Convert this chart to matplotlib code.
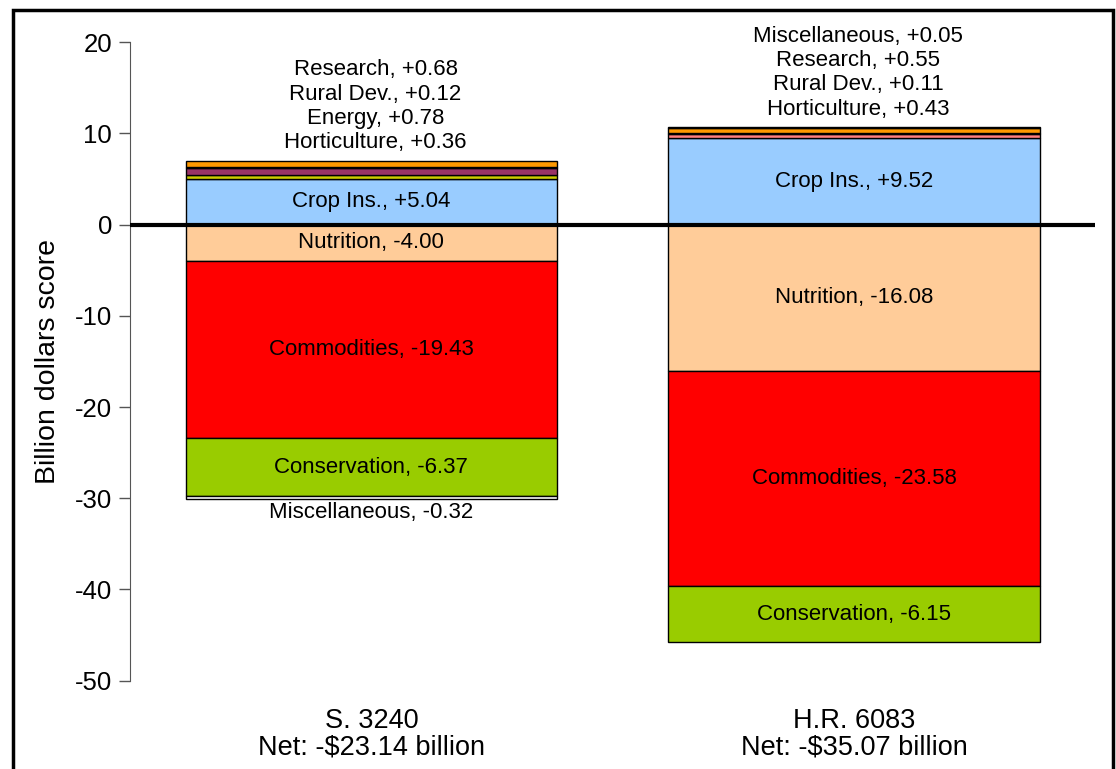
import matplotlib.pyplot as plt
from matplotlib.patches import Rectangle

plt.rcParams["font.family"] = ["Liberation Sans", "DejaVu Sans"]
plt.rcParams["axes.unicode_minus"] = False

bills = ["S. 3240\nNet: -$23.14 billion", "H.R. 6083\nNet: -$35.07 billion"]

# (label, value, colour), stacked from zero outward
s3240_pos = [("Crop Ins.", 5.04, "#99CCFF"), ("Horticulture", 0.36, "#CCCC00"),
             ("Energy", 0.78, "#993366"), ("Rural Dev.", 0.12, "#333333"),
             ("Research", 0.68, "#FF9900")]
s3240_neg = [("Nutrition", -4.00, "#FFCC99"), ("Commodities", -19.43, "#FF0000"),
             ("Conservation", -6.37, "#99CC00"), ("Miscellaneous", -0.32, "#FFFFFF")]
hr6083_pos = [("Crop Ins.", 9.52, "#99CCFF"), ("Horticulture", 0.43, "#FF8080"),
              ("Rural Dev.", 0.11, "#333333"), ("Research", 0.55, "#FF9900"),
              ("Miscellaneous", 0.05, "#333333")]
hr6083_neg = [("Nutrition", -16.08, "#FFCC99"), ("Commodities", -23.58, "#FF0000"),
              ("Conservation", -6.15, "#99CC00")]

# segments big enough to label inside the bar
inside = {"Crop Ins.", "Nutrition", "Commodities", "Conservation"}

yticks = [20, 10, 0, -10, -20, -30, -40, -50]

fig = plt.figure(figsize=(11.16, 7.69), dpi=100)
ax = fig.add_axes([0.1165, 0.115, 0.865, 0.83])
fig.patches.append(Rectangle((0.012, -0.05), 0.985, 1.037, transform=fig.transFigure,
                             fill=False, edgecolor="black", linewidth=2.5))

width = 0.77
fs = 16


def fmt(name, v):
    return f"{name}, {v:+.2f}"


for x, pos, neg in [(0, s3240_pos, s3240_neg), (1, hr6083_pos, hr6083_neg)]:
    above = []
    for segs in (pos, neg):
        base = 0.0
        for name, v, c in segs:
            ax.bar(x, v, width, bottom=base, color=c, edgecolor="black", linewidth=1.0, zorder=2)
            if name in inside:
                ax.text(x, base + v / 2, fmt(name, v), ha="center", va="center", fontsize=fs, zorder=3)
            elif v > 0:
                above.append(fmt(name, v))
            else:
                ax.annotate(fmt(name, v), (x, base + v), xytext=(0, -2), textcoords="offset points",
                            ha="center", va="top", fontsize=fs)
            base += v
        if segs is pos:
            top = base
    for i, lab in enumerate(above):
        ax.annotate(lab, (x, top), xytext=(3, 13 + 17.6 * i), textcoords="offset points",
                    ha="center", va="center", fontsize=fs)

ax.axhline(0, color="black", linewidth=3, zorder=4)

ax.set_xlim(-0.5, 1.5)
ax.set_ylim(-50, 20)
ax.set_yticks(yticks)
ax.tick_params(axis="y", labelsize=18.5, direction="out", length=8, width=1, color="#555555", pad=5)
ax.set_xticks([0, 1])
ax.set_xticklabels(bills, fontsize=19.5, linespacing=1.0)
ax.tick_params(axis="x", length=0, pad=20)
ax.set_ylabel("Billion dollars score", fontsize=20.5, labelpad=10)

for side in ("top", "right", "bottom"):
    ax.spines[side].set_visible(False)
ax.spines["left"].set_color("#555555")

fig.savefig("out.png", dpi=100)
